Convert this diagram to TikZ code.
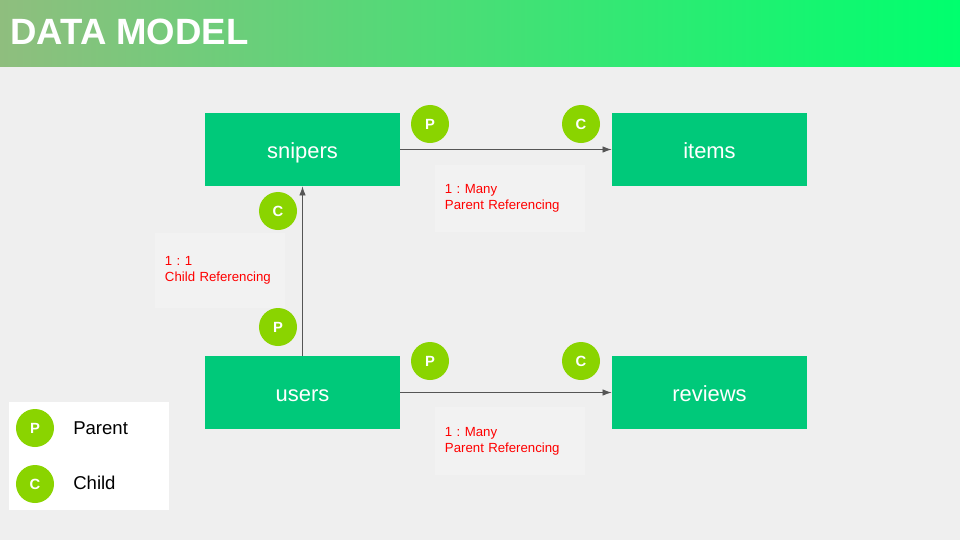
\documentclass[tikz,border=0pt]{standalone}
\usepackage{fontspec}
\setmainfont{Liberation Sans}
\usetikzlibrary{arrows.meta}
\frenchspacing
\definecolor{pagebg}{RGB}{239,239,239}
\definecolor{notebg}{RGB}{242,242,242}
\definecolor{boxgreen}{RGB}{0,201,122}
\definecolor{badgegreen}{RGB}{138,212,0}
\definecolor{headleft}{RGB}{143,190,126}
\definecolor{headright}{RGB}{0,255,110}
\definecolor{linkgray}{RGB}{85,85,85}
\tikzset{
  entity/.style={fill=boxgreen, text=white, minimum width=4.875cm, minimum height=1.825cm, text height=14.8pt, text depth=2pt, font=\fontsize{15.6}{18}\selectfont},
  badge/.style={circle, fill=badgegreen, text=white, minimum size=0.95cm, inner sep=0pt, font=\fontsize{10.5}{12}\selectfont\bfseries},
  note/.style={fill=notebg, text=red, align=left, inner xsep=0.25cm, font=\fontsize{9.4}{11.4}\selectfont},
  link/.style={draw=linkgray, line width=0.6pt, -{Latex[length=6.5pt, width=4.6pt]}},
  legendtext/.style={anchor=west, inner sep=0pt, font=\fontsize{13.2}{15}\selectfont}
}
\begin{document}
\begin{tikzpicture}[x=0.025cm, y=-0.025cm]
   \fill[pagebg] (0,0) rectangle (960,540);
   \useasboundingbox (0,0) rectangle (960,540);
   \shade[left color=headleft, right color=headright] (0,0) rectangle (960,66);
   \node[anchor=west, inner sep=0pt, text=white, font=\fontsize{26}{28}\selectfont\bfseries] (title) at (10,32) {DATA MODEL};

   % entities
   \node[entity] (snipers) at (302.5,149.5) {snipers};
   \node[entity] (items) at (709.5,149.5) {items};
   \node[entity] (users) at (302.5,392.5) {users};
   \node[entity] (reviews) at (709.5,392.5) {reviews};

   % notes
   \node[note, text width=3.25cm, minimum height=1.675cm] (n1) at (510,198.5) {1 : Many\\Parent Referencing};
   \node[note, text width=3.25cm, minimum height=1.7cm] (n2) at (510,441) {1 : Many\\Parent Referencing};
   \node[note, text width=2.75cm, minimum height=1.875cm] (n3) at (220,270.5) {1 : 1\\Child Referencing};

   % links
   \draw[link] (snipers.east) -- (items.west);
   \draw[link] (users.east) -- (reviews.west);
   \draw[link] (users.north) -- (snipers.south);

   % badges
   \node[badge] (p1) at (430,124) {P};
   \node[badge] (c1) at (581,124) {C};
   \node[badge] (c2) at (278,211) {C};
   \node[badge] (p2) at (278,327) {P};
   \node[badge] (p3) at (430,361) {P};
   \node[badge] (c3) at (581,361) {C};

   % legend
   \fill[white] (9,402) rectangle (169,510);
   \node[badge] (lp) at (35,428) {P};
   \node[badge] (lc) at (35,484) {C};
   \node[legendtext] (lpt) at (73,428) {Parent};
   \node[legendtext] (lct) at (73,483) {Child};
\end{tikzpicture}
\end{document}
